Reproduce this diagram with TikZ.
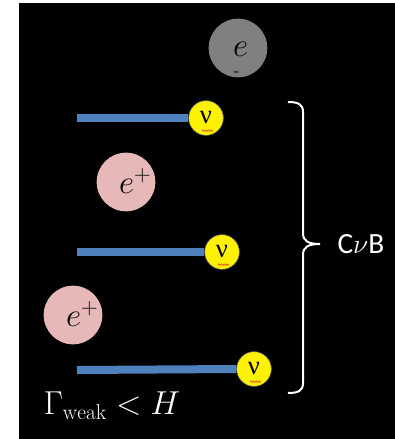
\documentclass[tikz,border=0pt]{standalone}
\usepackage{fontspec}
\setsansfont{Carlito}
\newfontfamily\nufont{Liberation Serif}
\usetikzlibrary{positioning,decorations.pathmorphing}

\definecolor{rodblue}{HTML}{4F81BD}
\definecolor{pospink}{HTML}{E6B9B8}
\definecolor{elgray}{HTML}{808080}
\definecolor{spellred}{HTML}{E8502A}

\begin{document}
\begin{tikzpicture}[x=0.75pt, y=-0.75pt,
    particle/.style={circle, inner sep=0pt, minimum size=44pt},
    electron/.style={particle, fill=elgray},
    positron/.style={particle, fill=pospink},
    charge/.style={font=\fontsize{26}{26}\selectfont, inner sep=0pt},
    neutrino/.style={circle, inner sep=0pt, minimum size=26pt, fill=yellow,
        draw=black!60, line width=0.4pt, font=\nufont\fontsize{20}{20}\selectfont},
    rod/.style={draw=rodblue, line width=6pt},
    squiggle/.style={draw=spellred, line width=0.5pt,
        decorate, decoration={snake, segment length=2pt, amplitude=0.6pt}},
    brace/.style={draw=white, line width=1.5pt}
]
% page and dark background
\useasboundingbox (0,0) rectangle (395,439);
\fill[white] (0,0) rectangle (395,439);
\fill[black] (19,3) rectangle (395,439);

% particles
\node[electron, label={[charge, xshift=2pt, yshift=-1pt]center:$e$},
    label={[charge, xshift=-1pt, yshift=-20pt, font=\fontsize{14}{14}\selectfont]center:-}] (elec) at (238,48) {};
\node[positron, label={[charge, xshift=7pt, yshift=1pt]center:$e^{+}$}] (posA) at (126,182) {};
\node[positron, label={[charge, xshift=7pt, yshift=1pt]center:$e^{+}$}] (posB) at (73,315) {};

% neutrinos with their trails
\node[neutrino] (nuA) at (206,118) {ν};
\node[neutrino] (nuB) at (222,252) {ν};
\node[neutrino] (nuC) at (254,369) {ν};
\coordinate (trailA) at (77,118);
\coordinate (trailB) at (77,252);
\coordinate (trailC) at (77,370);
\draw[rod] (trailA) -- (nuA.west);
\draw[rod] (trailB) -- (nuB.west);
\draw[rod] (trailC) -- (nuC.west);
\foreach \n in {nuA,nuB,nuC}
    \draw[squiggle] ([xshift=-3pt, yshift=-9.5pt]\n.center) -- ++(11,0);

% bracket
\coordinate (brtop) at (288,102);
\coordinate (brtip) at (320,244);
\coordinate (brbot) at (288,393);
\draw[brace] (brtop) .. controls (298,102) and (303,104) .. (303,112)
    -- (303,233) .. controls (303,241) and (308,244) .. (brtip)
    .. controls (308,244) and (303,247) .. (303,255)
    -- (303,383) .. controls (303,391) and (298,393) .. (brbot);
\node[right=13pt of brtip, inner sep=0pt, text=white,
    font=\sffamily\fontsize{22}{22}\selectfont] (cnub) {C$\nu$B};

% condition
\node[text=white, font=\fontsize{23}{23}\selectfont] (rate) at (112,406)
    {$\Gamma_{\mathrm{weak}} < H$};
\end{tikzpicture}
\end{document}
